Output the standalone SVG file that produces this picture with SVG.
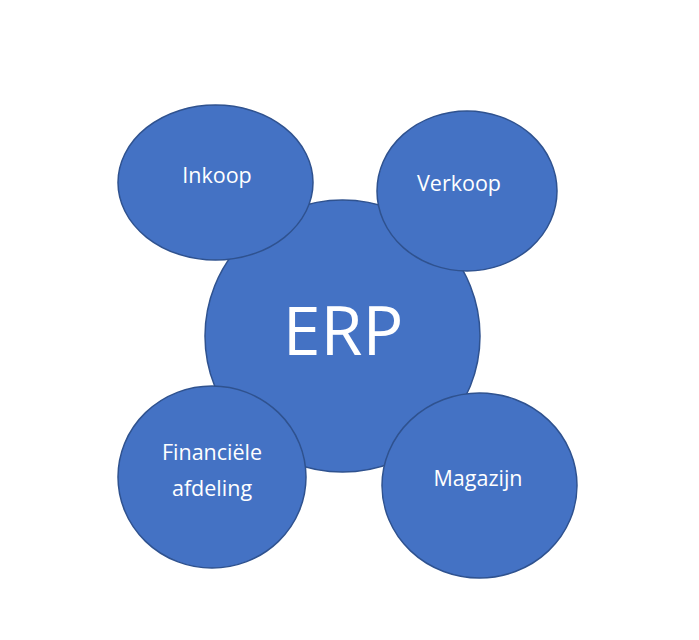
<svg xmlns="http://www.w3.org/2000/svg" width="699" height="640" viewBox="0 0 699 640">
<style>
.n{fill:#4472C4;stroke:#2F528F;stroke-width:1.5}
.t{fill:#fff;font-family:"Open Sans","Liberation Sans",sans-serif;font-size:21.5px;text-anchor:middle}
.big{font-size:68px}
</style>
<rect width="699" height="640" fill="#fff"/>
<g id="erp"><ellipse class="n" cx="342.5" cy="336" rx="137.5" ry="136"/><text class="t big" x="343" y="355">ERP</text></g>
<g id="inkoop"><ellipse class="n" cx="215.5" cy="182.5" rx="97.5" ry="77.5"/><text class="t" x="217" y="183">Inkoop</text></g>
<g id="verkoop"><ellipse class="n" cx="467" cy="191" rx="90" ry="80"/><text class="t" x="459" y="191">Verkoop</text></g>
<g id="financiele"><ellipse class="n" cx="212" cy="477" rx="94" ry="91"/><text class="t" x="212" y="460">Financiële</text><text class="t" x="212" y="496">afdeling</text></g>
<g id="magazijn"><ellipse class="n" cx="479.5" cy="485.5" rx="97.5" ry="92.5"/><text class="t" x="478" y="486">Magazijn</text></g>
<g id="connectors"/>
</svg>
